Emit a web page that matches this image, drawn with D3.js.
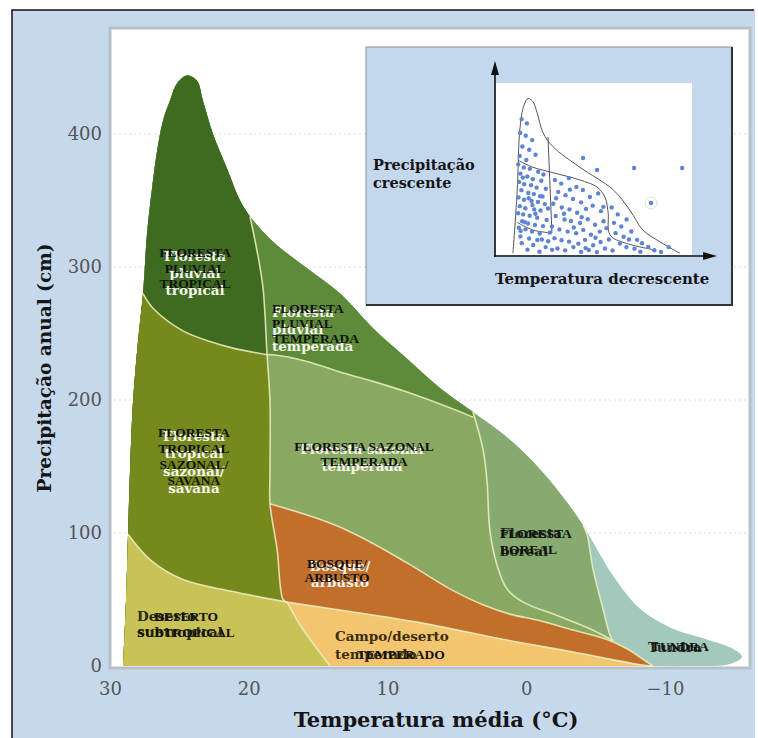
<!DOCTYPE html>
<html>
<head>
<meta charset="utf-8">
<script src="https://cdn.jsdelivr.net/npm/d3@7"></script>
<style>
  body { margin: 0; background: #fff; }
  svg { display: block; }
</style>
</head>
<body>
<script>
// eixos
const temps = [30, 20, 10, 0, -10]
const precs = [0, 100, 200, 300, 400]

// contorno geral [temperatura, precipitação]
const envelope = [
  [29.06, 0], [28.85, 48], [28.70, 99], [28.56, 146], [28.34, 199], [27.98, 244], [27.62, 280],
  [27.33, 325], [26.97, 359], [26.61, 387], [26.18, 410], [25.68, 425], [25.17, 438], [24.45, 444],
  [23.73, 440], [23.30, 425], [22.58, 400], [21.57, 374], [20.63, 350], [19.91, 338],
  [18.25, 319], [15.80, 299], [13.42, 280], [11.05, 254], [8.59, 231], [6.22, 209], [3.84, 191],
  [1.39, 172], [-0.99, 148], [-2.94, 123], [-4.09, 106],
  [-6.25, 68], [-8.20, 43], [-10.58, 28], [-13.03, 20], [-14.90, 13], [-15.55, 7], [-14.68, 1.5],
  [-11.80, 0], [-9.14, 0]
]
// fronteiras entre biomas
const tropUpper = [[19.91, 338], [19.4, 312], [18.97, 284], [18.68, 234]]
const vLine = [[18.68, 234], [18.47, 199], [18.47, 146], [18.47, 122], [17.96, 88], [17.53, 50], [17.24, 48]]
const desertLine = [[17.24, 48], [16.31, 31], [15.08, 13], [14.14, 0]]
const savTop = [[27.62, 280], [26.90, 269], [24.74, 252], [22.79, 244], [21.14, 239], [18.68, 234]]
const savBottom = [[28.70, 99], [27.12, 80], [24.74, 65], [21.14, 56], [17.24, 48]]
const seasonalTop = [[18.68, 234], [18.25, 234], [15.80, 229], [13.42, 221], [11.05, 214], [8.59, 206], [6.22, 197], [4.27, 189], [3.84, 187]]
const borealLine = [[3.84, 191], [3.12, 163], [2.83, 139], [2.61, 101], [2.11, 76], [1.39, 58], [0.23, 48], [-2.22, 38], [-4.59, 28], [-6.25, 19]]
const tundraLine = [[-4.09, 106], [-4.38, 99], [-4.81, 73], [-5.53, 43], [-6.04, 23], [-6.25, 19]]
const hiddenTail = [[-6.25, 19], [-6.7, 9], [-7.3, 0]]
const brownLeft = [[17.24, 48], [17.53, 50], [17.96, 88], [18.47, 122]]
const brownTop = [[18.47, 122], [15.08, 111], [12.70, 101], [10.32, 88], [7.87, 73], [5.50, 58], [3.12, 46],
  [1.17, 39], [-0.99, 34], [-3.37, 27], [-5.82, 20], [-7.26, 13], [-8.70, 3], [-9.14, 0]]
const campoTop = [[17.24, 48], [12.70, 41], [7.87, 33], [1.39, 19.5], [-3.37, 10.5], [-8.20, 1], [-9.14, 0]]

// rótulos: texto sobreposto (preto) e original
const labelsTop = [
  {lines: ["FLORESTA", "PLUVIAL", "TROPICAL"], t: 23.87, p: 307.5, anchor: "middle", lh: 15.5},
  {lines: ["FLORESTA", "PLUVIAL", "TEMPERADA"], t: 18.32, p: 265.4, anchor: "start", lh: 15},
  {lines: ["FLORESTA", "TROPICAL", "SAZONAL/", "SAVANA"], t: 23.95, p: 172, anchor: "middle", lh: 16},
  {lines: ["FLORESTA SAZONAL", "TEMPERADA"], t: 11.69, p: 161.3, anchor: "middle", lh: 15},
  {lines: ["BOSQUE/", "ARBUSTO"], t: 13.64, p: 74, anchor: "middle", lh: 14},
  {lines: ["DESERTO", "SUBTROPICAL"], t: 24.52, p: 34.2, anchor: "middle", lh: 16},
  {lines: ["TEMPERADO"], t: 9.03, p: 4.9, anchor: "middle", lh: 15},
  {lines: ["FLORESTA", "BOREAL"], t: 1.89, p: 96.6, anchor: "start", lh: 16.5},
  {lines: ["TUNDRA"], t: -11.08, p: 11.3, anchor: "middle", lh: 15}
]
const labelsOrig = [
  {lines: ["Floresta", "pluvial", "tropical"], t: 23.87, p: 304.5, anchor: "middle", lh: 17, color: "#f6f6ee"},
  {lines: ["Floresta", "pluvial", "temperada"], t: 18.32, p: 262.5, anchor: "start", lh: 17, color: "#f6f6ee"},
  {lines: ["Floresta", "tropical", "sazonal/", "savana"], t: 23.95, p: 169.5, anchor: "middle", lh: 17.5, color: "#f6f6ee"},
  {lines: ["Floresta sazonal", "temperada"], t: 11.84, p: 159.5, anchor: "middle", lh: 17, color: "#f6f6ee"},
  {lines: ["Bosque/", "arbusto"], t: 13.42, p: 71.5, anchor: "middle", lh: 16, color: "#f6f6ee"},
  {lines: ["Deserto", "subtropical"], t: 28.05, p: 34, anchor: "start", lh: 16.5, color: "#2a2812"},
  {lines: ["Campo/deserto", "temperado"], t: 13.78, p: 19, anchor: "start", lh: 18, color: "#3a2c10"},
  {lines: ["Floresta", "boreal"], t: 1.89, p: 96, anchor: "start", lh: 18, color: "#1e2a14"},
  {lines: ["Tundra"], t: -8.78, p: 10.5, anchor: "start", lh: 16, color: "#1e2a22"}
]

// gráfico pequeno (inserção)
const miniEnv = [[9.1, 1], [11.2, 36], [12.7, 74], [14.7, 87], [16.8, 91], [19.3, 89], [21.3, 83], [24.4, 71],
  [29.4, 63], [43.1, 51], [59.9, 38], [68.5, 26], [75.1, 14.5], [83.8, 7.6], [93.9, 1]]
const miniV = [[26.9, 68.6], [28.9, 12.8]]
const miniH = [[11.7, 55], [19.3, 51], [28.9, 48], [43.1, 43.6], [51.8, 39.5], [55.8, 33.7], [57.4, 25],
  [58.4, 11.6], [66, 7], [81.2, 2.9]]
const miniLow = [[11.2, 19], [19.3, 14.5], [28.9, 12.8]]
const miniDots = [
  [13.5, 79], [16.2, 76.5], [12.8, 71], [15.6, 69.3], [18.9, 66.8], [13.9, 63.1], [17.4, 61.2], [20.6, 58.3],
  [12.5, 57.6], [15.9, 55.2],
  [11.8, 52.7], [14.6, 50.9], [17.7, 50.1], [21.9, 48.4], [24.6, 46.8], [12.9, 47.3], [16.4, 45.6], [19.2, 44.1],
  [23.5, 43.2], [12.2, 42.5], [14.8, 41.1], [18.3, 40.6], [21.1, 39.2], [25.8, 38.5], [13.4, 37.7], [16.9, 36.1],
  [19.7, 35.4], [22.9, 34.2], [11.9, 33.5], [14.7, 32.1], [18.6, 31.4], [21.8, 30.8], [25.3, 29.6], [12.6, 28.4],
  [15.4, 27.2], [19.9, 26.5], [23.1, 25.9], [11.7, 24.3], [14.3, 23.6], [17.6, 22.8], [21.4, 21.7], [26.2, 20.4],
  [13.8, 19.6], [16.8, 18.3], [20.3, 17.5], [24.4, 16.8], [12.1, 15.8], [15.5, 14.9], [18.8, 13.6], [22.7, 12.5],
  [12.9, 10.8], [17.3, 9.6], [21.5, 8.7], [13.6, 6.9], [19.4, 5.8], [25.7, 4.6], [16.5, 3.1], [22.6, 1.9],
  [14.1, 45], [17.1, 33], [20.5, 24], [15.2, 19], [24.1, 34], [26.9, 27], [23.8, 9], [27.8, 13], [19.0, 29], [13.0, 14],
  [30.4, 43.6], [33.6, 41.5], [37.5, 44.7], [41.3, 39.6], [44.6, 37.8], [32.1, 36.7], [35.8, 34.8], [39.6, 32.6],
  [43.7, 30.6], [48.2, 33.7], [52.4, 35.8], [29.6, 29.8], [33.9, 27.6], [37.8, 26.5], [41.7, 24.6], [46.2, 26.8],
  [49.6, 28.7], [53.8, 25.5], [30.8, 22.7], [35.3, 20.6], [38.6, 19.8], [43.2, 18.6], [47.1, 20.8], [50.8, 17.6],
  [55.1, 19.6], [28.9, 16.6], [32.7, 14.8], [36.9, 13.6], [41.2, 12.7], [44.8, 14.6], [48.7, 11.8], [53.2, 13.6],
  [56.6, 15.6], [30.2, 9.7], [33.8, 8.6], [37.6, 7.8], [42.3, 6.6], [45.7, 8.8], [49.8, 5.7], [53.6, 7.6],
  [31.7, 3.8], [35.6, 2.7], [39.8, 4.6], [43.7, 1.8], [47.6, 2.9], [51.7, 1.7], [55.8, 3.8],
  [35, 24], [40, 16], [46, 4], [51, 10], [31, 33], [44, 22], [38, 38], [55, 28], [27, 8], [29, 3],
  [59.2, 27.6], [62.3, 23.6], [60.4, 18.7], [64.1, 16.6], [66.8, 20.7], [61.2, 12.7], [65.3, 10.6], [69.2, 13.7],
  [72.1, 8.8], [63.4, 6.7], [66.7, 4.6], [70.8, 3.7], [74.6, 6.8], [77.8, 4.7], [80.9, 2.8], [73.8, 1.9],
  [84.3, 1.8], [88.2, 4.6], [59.7, 2.6], [57.8, 9], [68, 9],
  [44.7, 56.4], [51.8, 49.4], [70.6, 50.6], [95, 50.6], [79.2, 30.2]
]

const width = 758, height = 738
const x = d3.scaleLinear().domain([30, -10]).range([110, 665])
const y = d3.scaleLinear().domain([0, 400]).range([666, 134])
const iu = d3.scaleLinear().domain([0, 100]).range([495, 692])
const iv = d3.scaleLinear().domain([0, 100]).range([255, 83])

const svg = d3.select("body").append("svg")
  .attr("width", width)
  .attr("height", height)
  .attr("viewBox", [0, 0, width, height])

// fundo azul + moldura
svg.append("rect").attr("x", 12).attr("y", 10).attr("width", 743).attr("height", 728).attr("fill", "#c6d9ec")
svg.append("path").attr("d", "M12,738V10H754").attr("fill", "none").attr("stroke", "#111").attr("stroke-width", 1.5)
svg.append("rect").attr("x", 110).attr("y", 28).attr("width", 640).attr("height", 640)
  .attr("fill", "#fff").attr("stroke", "#b8c0c8").attr("stroke-width", 3)

// linhas de grade fracas
svg.append("g")
  .selectAll("line")
  .data(precs.slice(1))
  .join("line")
  .attr("x1", 114).attr("x2", 748)
  .attr("y1", d => y(d)).attr("y2", d => y(d))
  .attr("stroke", "#c4c4c4").attr("stroke-dasharray", "2,3").attr("stroke-opacity", 0.6)

const line = d3.line()
  .x(d => x(d[0]))
  .y(d => y(d[1]))
  .curve(d3.curveCatmullRom.alpha(0.5))

function joinPath(segs) {
  return segs.map((s, i) => {
    const p = line(s)
    return i ? "L" + p.slice(1) : p
  }).join("") + "Z"
}
const rev = a => a.slice().reverse()

const layers = [
  {color: "#a3c9bd", segs: [envelope]},
  {color: "#86aa70", segs: [envelope.slice(0, 31), tundraLine, hiddenTail]},
  {color: "#89a862", segs: [envelope.slice(0, 27), borealLine, hiddenTail]},
  {color: "#5d8b39", segs: [envelope.slice(0, 27), rev(seasonalTop), vLine, desertLine]},
  {color: "#3e6b20", segs: [envelope.slice(0, 20), tropUpper, vLine, desertLine]},
  {color: "#76891c", segs: [envelope.slice(0, 7), savTop, vLine, desertLine]},
  {color: "#c8c257", segs: [envelope.slice(0, 3), savBottom, desertLine]},
  {color: "#c26f2b", segs: [brownLeft, brownTop, rev(campoTop)]},
  {color: "#f3c56f", segs: [campoTop, [[-9.14, 0], [14.14, 0]], rev(desertLine)]}
]

svg.append("g")
  .selectAll("path")
  .data(layers)
  .join("path")
  .attr("d", d => joinPath(d.segs))
  .attr("fill", d => d.color)

// fronteiras claras
svg.append("g")
  .selectAll("path")
  .data([tropUpper.concat(vLine.slice(1)), desertLine, savTop, savBottom, seasonalTop, borealLine, tundraLine, brownTop, campoTop])
  .join("path")
  .attr("d", d => line(d))
  .attr("fill", "none")
  .attr("stroke", "#eef0c2")
  .attr("stroke-width", 1.6)
  .attr("stroke-opacity", 0.85)

// rótulos originais (por baixo)
const gOrig = svg.append("g")
  .attr("font-family", "DejaVu Serif, serif")
  .attr("font-weight", "bold")
  .attr("font-size", 13.5)
labelsOrig.forEach(l => {
  const t = gOrig.append("text")
    .attr("x", x(l.t)).attr("y", y(l.p))
    .attr("text-anchor", l.anchor)
    .attr("fill", l.color)
  l.lines.forEach((s, i) => t.append("tspan").attr("x", x(l.t)).attr("dy", i ? l.lh : 0).text(s))
})

// rótulos sobrepostos
const gTop = svg.append("g")
  .attr("font-family", "Liberation Serif, Times New Roman, serif")
  .attr("font-weight", "bold")
  .attr("font-size", 13.5)
  .attr("fill", "#111")
labelsTop.forEach(l => {
  const t = gTop.append("text")
    .attr("x", x(l.t)).attr("y", y(l.p))
    .attr("text-anchor", l.anchor)
  l.lines.forEach((s, i) => t.append("tspan").attr("x", x(l.t)).attr("dy", i ? l.lh : 0).text(s))
})

// eixos
svg.append("g")
  .attr("transform", "translate(102,0)")
  .call(d3.axisLeft(y).tickValues(precs).tickSize(0).tickPadding(0).tickFormat(d3.format("d")))
  .call(g => g.select(".domain").remove())
  .call(g => g.selectAll("text").attr("font-family", "DejaVu Serif, serif").attr("font-size", 18).attr("fill", "#555"))

svg.append("g")
  .attr("transform", "translate(0,682)")
  .call(d3.axisBottom(x).tickValues(temps).tickSize(0).tickPadding(0).tickFormat(d3.format("d")))
  .call(g => g.select(".domain").remove())
  .call(g => g.selectAll("text").attr("font-family", "DejaVu Serif, serif").attr("font-size", 18).attr("fill", "#555"))

svg.append("text")
  .attr("x", 436).attr("y", 727)
  .attr("text-anchor", "middle")
  .attr("font-family", "DejaVu Serif, serif").attr("font-weight", "bold").attr("font-size", 21)
  .attr("fill", "#151515")
  .text("Temperatura média (°C)")

svg.append("text")
  .attr("transform", "translate(51,368) rotate(-90)")
  .attr("text-anchor", "middle")
  .attr("font-family", "DejaVu Serif, serif").attr("font-weight", "bold").attr("font-size", 18.5)
  .attr("fill", "#151515")
  .text("Precipitação anual (cm)")

// inserção
const inset = svg.append("g")
inset.append("rect").attr("x", 366).attr("y", 47).attr("width", 366).attr("height", 258)
  .attr("fill", "#c4d8ed").attr("stroke", "#8a9299").attr("stroke-width", 1)
inset.append("path").attr("d", "M366,305H732V47").attr("fill", "none").attr("stroke", "#333").attr("stroke-width", 2)
inset.append("rect").attr("x", iu(0) + 1).attr("y", iv(100)).attr("width", iu(100) - iu(0) - 1).attr("height", iv(0) - iv(100))
  .attr("fill", "#fff")

const miniLine = d3.line().x(d => iu(d[0])).y(d => iv(d[1])).curve(d3.curveCatmullRom.alpha(0.5))
inset.append("g")
  .selectAll("path")
  .data([miniEnv, miniV, miniH, miniLow])
  .join("path")
  .attr("d", d => miniLine(d))
  .attr("fill", "none")
  .attr("stroke", "#555")
  .attr("stroke-width", 1)

inset.append("circle").attr("cx", iu(79.2)).attr("cy", iv(30.2)).attr("r", 6)
  .attr("fill", "none").attr("stroke", "#ddd")
inset.append("g")
  .selectAll("circle")
  .data(miniDots)
  .join("circle")
  .attr("cx", d => iu(d[0]))
  .attr("cy", d => iv(d[1]))
  .attr("r", 2.2)
  .attr("fill", "#5f84d6")

inset.append("line").attr("x1", iu(0)).attr("x2", iu(0)).attr("y1", iv(0) + 2).attr("y2", 72)
  .attr("stroke", "#111").attr("stroke-width", 1.6)
inset.append("path").attr("d", `M${iu(0)},61L${iu(0) - 4},75L${iu(0) + 4},75Z`).attr("fill", "#111")
inset.append("line").attr("x1", iu(0) - 1).attr("x2", 706).attr("y1", iv(0) + 1).attr("y2", iv(0) + 1)
  .attr("stroke", "#111").attr("stroke-width", 1.6)
inset.append("path").attr("d", `M717,${iv(0) + 1}L703,${iv(0) - 3}L703,${iv(0) + 5}Z`).attr("fill", "#111")

const gInsetText = inset.append("g")
  .attr("font-family", "DejaVu Serif, serif").attr("font-weight", "bold").attr("fill", "#151515")
gInsetText.append("text").attr("x", 373).attr("y", 170).attr("font-size", 14.5).text("Precipitação")
gInsetText.append("text").attr("x", 373).attr("y", 188).attr("font-size", 14.5).text("crescente")
gInsetText.append("text").attr("x", 495).attr("y", 284).attr("font-size", 15).text("Temperatura decrescente")
</script>
</body>
</html>
